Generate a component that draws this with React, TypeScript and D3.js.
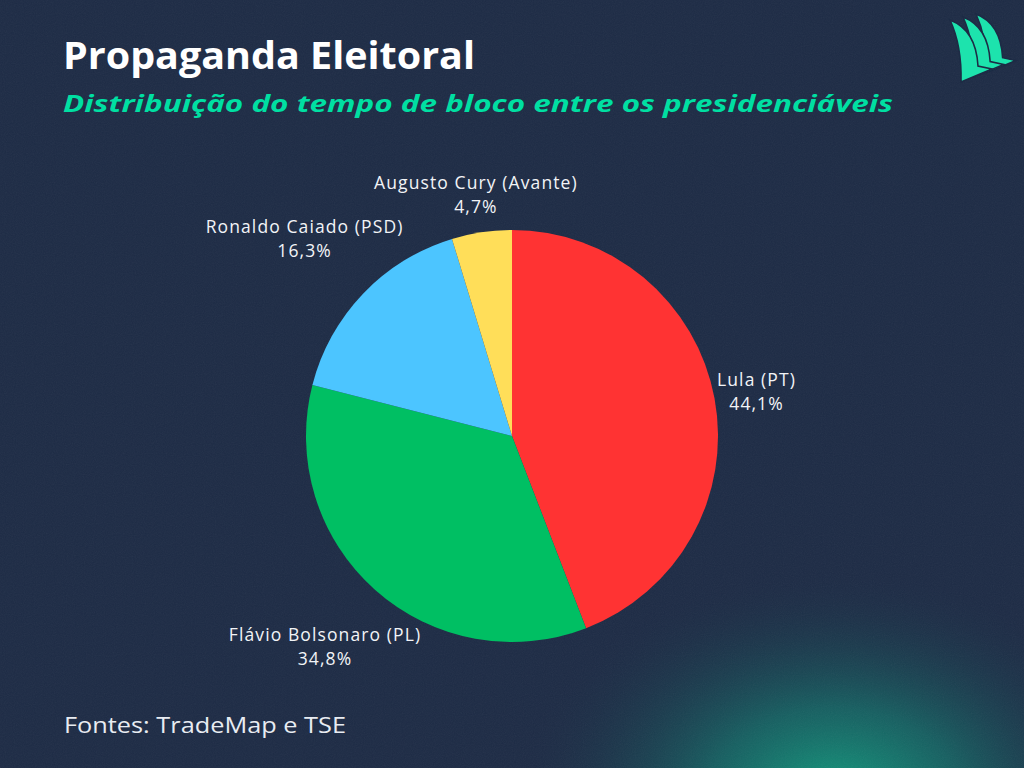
import React, { useEffect, useRef } from 'react';
import * as d3 from 'd3';

const candidates = ['Lula (PT)', 'Flávio Bolsonaro (PL)', 'Ronaldo Caiado (PSD)', 'Augusto Cury (Avante)'];
const shares = [44.1, 34.8, 16.3, 4.7];
const shareLabels = ['44,1%', '34,8%', '16,3%', '4,7%'];
const sliceColors = ['#ff3333', '#00bf63', '#4cc5ff', '#ffde59'];

const W = 1024;
const H = 768;
const BG = '#1d2b45';
const FONT = '"Open Sans", "DejaVu Sans", sans-serif';

const App: React.FC = () => {
  const svgRef = useRef<SVGSVGElement>(null);

  useEffect(() => {
    if (!svgRef.current) return;
    const svg = d3.select(svgRef.current);
    svg.selectAll('*').remove();

    // background + glow + grain
    const defs = svg.append('defs');
    const glow = defs.append('radialGradient')
      .attr('id', 'glow')
      .attr('cx', 0.5).attr('cy', 0.5).attr('r', 0.5);
    glow.append('stop').attr('offset', '0%').attr('stop-color', '#13a683').attr('stop-opacity', 0.95);
    glow.append('stop').attr('offset', '40%').attr('stop-color', '#128a78').attr('stop-opacity', 0.55);
    glow.append('stop').attr('offset', '100%').attr('stop-color', BG).attr('stop-opacity', 0);

    const grain = defs.append('filter').attr('id', 'grain');
    grain.append('feTurbulence').attr('type', 'fractalNoise').attr('baseFrequency', 0.9).attr('numOctaves', 2).attr('stitchTiles', 'stitch');
    grain.append('feColorMatrix').attr('type', 'saturate').attr('values', 0);

    svg.append('rect').attr('width', W).attr('height', H).attr('fill', BG);
    svg.append('ellipse')
      .attr('cx', 835).attr('cy', 800)
      .attr('rx', 320).attr('ry', 230)
      .attr('fill', 'url(#glow)');
    svg.append('rect').attr('width', W).attr('height', H)
      .attr('filter', 'url(#grain)').attr('opacity', 0.06);

    // titles
    svg.append('text')
      .attr('x', 63).attr('y', 69)
      .attr('textLength', 412).attr('lengthAdjust', 'spacingAndGlyphs')
      .style('font-family', FONT).style('font-weight', 700).style('font-size', '37px')
      .attr('fill', '#ffffff')
      .text('Propaganda Eleitoral');

    svg.append('text')
      .attr('x', 63).attr('y', 112)
      .attr('textLength', 830).attr('lengthAdjust', 'spacingAndGlyphs')
      .style('font-family', FONT).style('font-weight', 700).style('font-style', 'italic').style('font-size', '23px')
      .attr('fill', '#00dfa2')
      .text('Distribuição do tempo de bloco entre os presidenciáveis');

    svg.append('text')
      .attr('x', 64).attr('y', 733)
      .attr('textLength', 282).attr('lengthAdjust', 'spacingAndGlyphs')
      .style('font-family', FONT).style('font-size', '21px')
      .attr('fill', '#e8ecf2')
      .text('Fontes: TradeMap e TSE');

    // logo
    const logo = svg.append('g').attr('fill', '#1de3ad').attr('stroke', BG).attr('stroke-width', 1.6);
    const sail = 'M0,0 Q26,10 28,46 L42,49 L11,62 Q12,26 0,0 Z';
    [[976, 14, 0.95], [963, 17, 0.97], [950, 20, 1]].forEach(([x, y, s]) => {
      logo.append('path').attr('d', sail).attr('transform', `translate(${x},${y}) scale(${s})`);
    });

    // pie
    const cx = 512;
    const cy = 436;
    const R = 206;
    const data = candidates.map((c, i) => ({ name: c, value: shares[i], label: shareLabels[i], color: sliceColors[i] }));
    const pie = d3.pie<any>().sort(null).value(d => d.value);
    const arcs = pie(data);
    const arc = d3.arc<any>().innerRadius(0).outerRadius(R);

    const g = svg.append('g').attr('transform', `translate(${cx},${cy})`);
    g.selectAll('path.slice')
      .data(arcs)
      .enter().append('path')
      .attr('class', 'slice')
      .attr('d', arc)
      .attr('fill', d => d.data.color);

    // labels along the mid angle, pushed out by their own size
    arcs.forEach(a => {
      const mid = (a.startAngle + a.endAngle) / 2;
      const sx = Math.sin(mid);
      const sy = -Math.cos(mid);
      const t = g.append('text')
        .attr('text-anchor', 'middle')
        .style('font-family', FONT).style('font-size', '17.5px')
        .style('letter-spacing', '1.1px')
        .attr('fill', '#f2f4f7');
      t.append('tspan').attr('x', 0).attr('y', 0).text(a.data.name);
      t.append('tspan').attr('x', 0).attr('y', 24).text(a.data.label);
      const bb = (t.node() as SVGTextElement).getBBox();
      const hw = bb.width / 2;
      const hh = bb.height / 2;
      const dist = R + 6 + 0.85 * (Math.abs(sx) * hw + Math.abs(sy) * hh);
      const px = sx * dist;
      const py = sy * dist;
      t.attr('transform', `translate(${px - (bb.x + hw)},${py - (bb.y + hh)})`);
    });
  }, []);

  return (
    <div style={{ position: 'fixed', left: 0, top: 0, width: W, height: H, background: BG }}>
      <svg ref={svgRef} width={W} height={H} style={{ display: 'block' }} />
    </div>
  );
};

export default App;
